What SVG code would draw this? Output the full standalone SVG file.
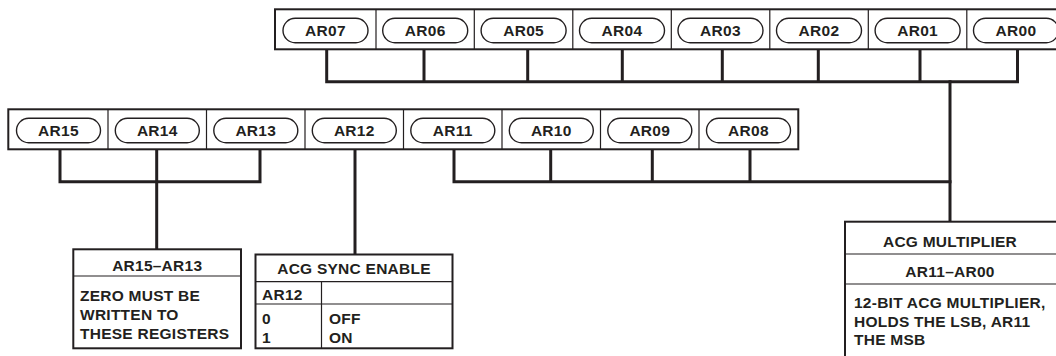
<svg xmlns="http://www.w3.org/2000/svg" width="1056" height="356" viewBox="0 0 1056 356">
<style>
.frame{fill:#fff;stroke:#231f20;stroke-width:2}
.div{stroke:#231f20;stroke-width:1.2;fill:none}
.pill{fill:#fff;stroke:#231f20;stroke-width:1.4}
.bus{stroke:#231f20;stroke-width:3;fill:none;stroke-linecap:square}
text{font-family:"Liberation Sans",Arial,Helvetica,sans-serif;font-weight:bold;font-size:15.5px;fill:#231f20;letter-spacing:0.25px}
.pt{font-size:15.5px;text-anchor:middle;letter-spacing:0.3px}
.c{text-anchor:middle}
</style>
<rect width="1056" height="356" fill="#fff"/>

<g id="connectors">
  <path class="bus" d="M326.7,50 V81.7 M424,50 V81.7 M527.7,50 V81.7 M622.3,50 V81.7 M722.3,50 V81.7 M818.3,50 V81.7 M920,50 V81.7 M1017.5,50 V81.7 M326.7,81.7 H1017.5"/>
  <path class="bus" d="M950,81.7 V221"/>
  <path class="bus" d="M60,150 V181.7 M156.7,150 V181.7 M260,150 V181.7 M60,181.7 H260 M156.7,181.7 V248.5"/>
  <path class="bus" d="M355,150 V254"/>
  <path class="bus" d="M454,150 V181.7 M550.7,150 V181.7 M652.3,150 V181.7 M750,150 V181.7 M454,181.7 H950"/>
</g>

<g id="register-row-top">
  <rect class="frame" x="275" y="9.3" width="795" height="40"/>
  <path class="div" d="M376,9.3 V49.3 M474.3,9.3 V49.3 M572.8,9.3 V49.3 M671.3,9.3 V49.3 M769.8,9.3 V49.3 M868.3,9.3 V49.3 M966.8,9.3 V49.3"/>
  <g id="AR07"><rect class="pill" x="283" y="18.3" width="85" height="24.4" rx="12.2"/><text class="pt" x="325.5" y="35.5">AR07</text></g>
  <g id="AR06"><rect class="pill" x="382.7" y="18.3" width="85" height="24.4" rx="12.2"/><text class="pt" x="425.2" y="35.5">AR06</text></g>
  <g id="AR05"><rect class="pill" x="481.1" y="18.3" width="85" height="24.4" rx="12.2"/><text class="pt" x="523.6" y="35.5">AR05</text></g>
  <g id="AR04"><rect class="pill" x="579.5" y="18.3" width="85" height="24.4" rx="12.2"/><text class="pt" x="622" y="35.5">AR04</text></g>
  <g id="AR03"><rect class="pill" x="678" y="18.3" width="85" height="24.4" rx="12.2"/><text class="pt" x="720.5" y="35.5">AR03</text></g>
  <g id="AR02"><rect class="pill" x="776.5" y="18.3" width="85" height="24.4" rx="12.2"/><text class="pt" x="819" y="35.5">AR02</text></g>
  <g id="AR01"><rect class="pill" x="875.1" y="18.3" width="85" height="24.4" rx="12.2"/><text class="pt" x="917.6" y="35.5">AR01</text></g>
  <g id="AR00"><rect class="pill" x="973.5" y="18.3" width="85" height="24.4" rx="12.2"/><text class="pt" x="1016" y="35.5">AR00</text></g>
</g>

<g id="register-row-bottom">
  <rect class="frame" x="8.3" y="109.3" width="790" height="40"/>
  <path class="div" d="M108,109.3 V149.3 M206.5,109.3 V149.3 M305,109.3 V149.3 M403.5,109.3 V149.3 M502,109.3 V149.3 M600.5,109.3 V149.3 M699,109.3 V149.3"/>
  <g id="AR15"><rect class="pill" x="16.5" y="118.3" width="84" height="24.4" rx="12.2"/><text class="pt" x="58.5" y="135.5">AR15</text></g>
  <g id="AR14"><rect class="pill" x="115.3" y="118.3" width="84" height="24.4" rx="12.2"/><text class="pt" x="157.3" y="135.5">AR14</text></g>
  <g id="AR13"><rect class="pill" x="213.8" y="118.3" width="84" height="24.4" rx="12.2"/><text class="pt" x="255.8" y="135.5">AR13</text></g>
  <g id="AR12"><rect class="pill" x="312.3" y="118.3" width="84" height="24.4" rx="12.2"/><text class="pt" x="354.3" y="135.5">AR12</text></g>
  <g id="AR11"><rect class="pill" x="410.8" y="118.3" width="84" height="24.4" rx="12.2"/><text class="pt" x="452.8" y="135.5">AR11</text></g>
  <g id="AR10"><rect class="pill" x="509.3" y="118.3" width="84" height="24.4" rx="12.2"/><text class="pt" x="551.3" y="135.5">AR10</text></g>
  <g id="AR09"><rect class="pill" x="607.8" y="118.3" width="84" height="24.4" rx="12.2"/><text class="pt" x="649.8" y="135.5">AR09</text></g>
  <g id="AR08"><rect class="pill" x="706.5" y="118.3" width="84" height="24.4" rx="12.2"/><text class="pt" x="748.5" y="135.5">AR08</text></g>
</g>

<g id="box-ar15-ar13">
  <rect class="frame" x="73.3" y="249.3" width="167.7" height="99"/>
  <path class="div" d="M73.3,276 H241"/>
  <text class="c" x="157.2" y="270.5">AR15–AR13</text>
  <text x="80" y="301">ZERO MUST BE</text>
  <text x="80" y="319.5">WRITTEN TO</text>
  <text x="80" y="338.5">THESE REGISTERS</text>
</g>

<g id="box-acg-sync-enable">
  <rect class="frame" x="255.5" y="254.5" width="197" height="93.8"/>
  <path class="div" d="M255.5,281.7 H452.5 M255.5,304 H452.5 M321.5,281.7 V348.3"/>
  <text class="c" x="354" y="274">ACG SYNC ENABLE</text>
  <text x="262" y="299.5">AR12</text>
  <text x="262" y="323.5">0</text>
  <text x="262" y="342.5">1</text>
  <text x="329" y="323.5">OFF</text>
  <text x="329" y="342.5">ON</text>
</g>

<g id="box-acg-multiplier">
  <rect class="frame" x="845" y="221.7" width="220" height="145"/>
  <path class="div" d="M845,254 H1065 M845,284 H1065"/>
  <text class="c" x="950" y="246.5">ACG MULTIPLIER</text>
  <text class="c" x="950" y="277.3">AR11–AR00</text>
  <text x="854" y="308">12-BIT ACG MULTIPLIER,</text>
  <text x="854" y="326.5">HOLDS THE LSB, AR11</text>
  <text x="854" y="345.3">THE MSB</text>
</g>
</svg>
